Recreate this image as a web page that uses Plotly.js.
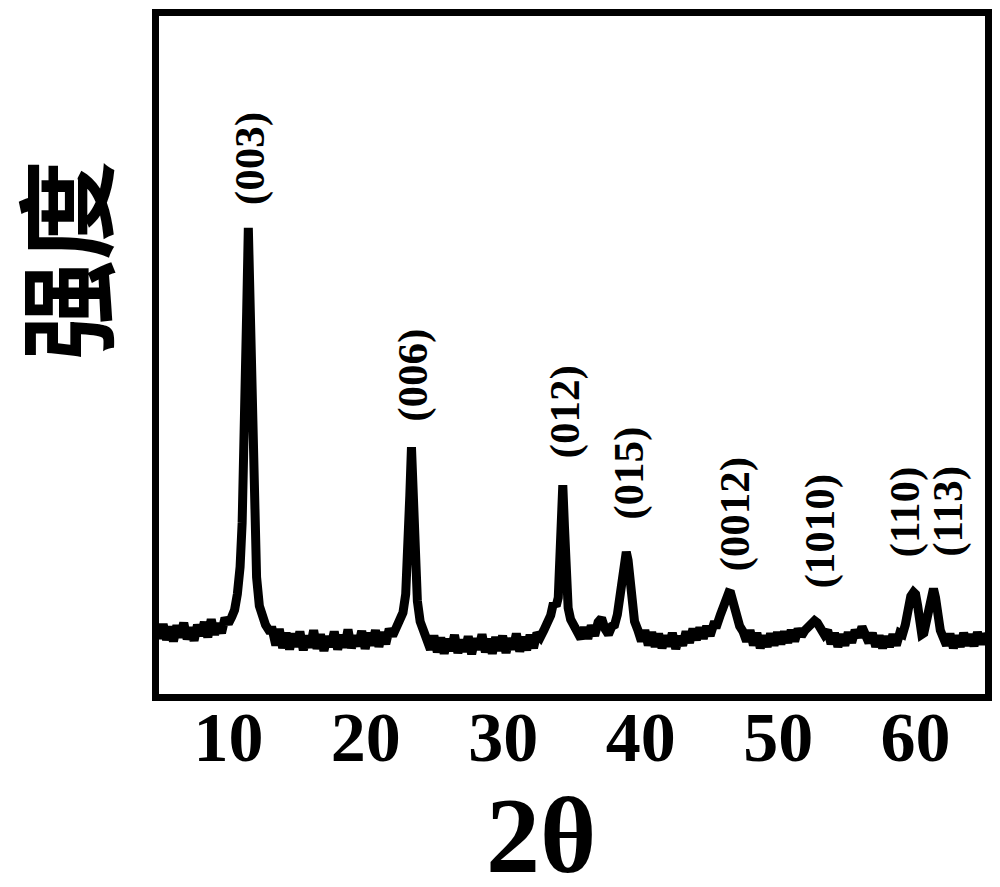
<!DOCTYPE html>
<html>
<head>
<meta charset="utf-8">
<script src="https://cdn.plot.ly/plotly-3.0.1.min.js"></script>
<style>html,body{margin:0;padding:0;background:#fff;}#chart{width:1000px;height:887px;}</style>
</head>
<body>
<div id="chart"></div>
<script>
const twoTheta = [
4.8,5.0,5.25,5.5,5.75,6.0,6.25,6.5,6.75,7.0,7.25,7.5,7.75,8.0,8.25,8.5,8.75,9.0,9.25,9.5,9.75,10.0,
10.25,10.45,10.65,10.85,11.0,11.2,11.33,11.45,11.57,11.7,11.85,12.05,12.25,12.45,12.7,12.95,
13.2,13.45,13.7,13.95,14.2,14.45,14.7,14.95,15.2,15.45,15.7,15.95,16.2,16.45,16.7,16.95,17.2,17.45,17.7,17.95,18.2,18.45,18.7,18.95,19.2,19.45,19.7,19.95,20.2,20.45,20.7,20.95,21.2,21.45,21.7,21.95,
22.2,22.45,22.7,22.9,23.05,23.2,23.32,23.45,23.6,23.75,23.95,24.2,24.45,
24.7,24.95,25.2,25.45,25.7,25.95,26.2,26.45,26.7,26.95,27.2,27.45,27.7,27.95,28.2,28.45,28.7,28.95,29.2,29.45,29.7,29.95,30.2,30.45,30.7,30.95,31.2,31.45,31.7,31.95,32.2,32.45,32.7,
32.95,33.2,33.45,33.65,33.85,34.0,34.12,34.22,34.33,34.45,34.57,34.72,34.9,35.15,35.4,35.65,
35.9,36.15,36.4,36.65,36.9,37.15,37.4,37.65,37.9,
38.1,38.3,38.5,38.7,38.85,38.95,39.08,39.2,39.35,39.55,39.8,
40.05,40.3,40.55,40.8,41.05,41.3,41.55,41.8,42.05,42.3,42.55,42.8,43.05,43.3,43.55,43.8,44.05,44.3,44.55,44.8,45.05,45.3,
45.55,45.8,46.0,46.2,46.4,46.55,46.75,46.95,47.2,47.45,
47.7,47.95,48.2,48.45,48.7,48.95,49.2,49.45,49.7,49.95,50.2,50.45,50.7,50.95,51.2,51.45,51.7,51.95,52.2,52.45,52.65,52.85,53.1,53.35,53.6,53.85,54.1,54.35,54.6,54.85,55.1,55.35,55.6,55.85,56.1,56.35,56.6,56.85,57.1,57.35,57.6,57.85,58.1,58.35,58.6,58.85,59.05,
59.25,59.45,59.65,59.85,60.0,60.15,60.3,60.45,60.6,
60.75,60.95,61.15,61.3,61.45,61.6,61.8,62.0,
62.25,62.5,62.75,63.0,63.25,63.5,63.75,64.0,64.25,64.5,64.75,65.0,65.2
];
const intensity = [
100,80,101,78,97,76,99,82,103,79,96,77,100,84,104,82,108,86,102,88,110,102,
112,122,145,185,250,380,560,683,560,380,240,170,128,112,100,92,
92,70,94,66,88,64,87,68,90,63,84,67,92,65,86,62,83,68,90,64,85,67,93,66,84,69,91,65,88,70,92,68,89,72,94,84,
95,102,118,145,200,290,361,285,190,135,105,88,80,
64,84,60,81,58,79,62,85,59,78,61,83,57,80,64,86,60,79,58,82,62,84,59,80,64,87,61,82,63,85,66,88,82,
92,100,114,132,128,140,190,260,305,245,165,125,108,96,86,80,
96,80,99,84,104,110,94,86,98,
100,115,140,175,200,207,195,165,128,105,92,
76,92,70,89,68,87,66,84,69,88,65,83,70,90,74,94,78,96,80,98,84,100,
100,115,128,140,147,146,130,112,98,90,
76,92,70,88,66,84,68,87,70,89,72,90,74,92,76,94,84,92,96,101,106,103,95,86,92,72,88,68,86,70,89,74,92,82,97,84,74,88,68,84,66,83,68,86,70,88,86,
100,125,142,148,145,128,108,86,88,
102,128,148,153,140,115,92,82,
70,87,66,84,68,88,70,86,69,89,72,86,80
];
const xTickVals = [10,20,30,40,50,60];
const xTickText = ["10","20","30","40","50","60"];
const peakLabels = ["(003)","(006)","(012)","(015)","(0012)","(1010)","(110)","(113)"];
const peakLabelX = [11.56,23.42,34.47,39.13,46.84,53.02,59.2,62.4];
const peakLabelY = [785,467,413,323,263,238,266,267];
const xTitle = "2θ";
const yTitle = "强度";

const serif = "Liberation Serif, Times New Roman, serif";
const annotations = peakLabels.map((t,i)=>({
  text: t, x: peakLabelX[i], y: peakLabelY[i], xref:'x', yref:'y',
  showarrow:false, textangle:-90, xanchor:'center', yanchor:'middle',
  font:{family:serif, size:43, color:'#000', weight:'bold'}
}));
annotations.push({
  text: xTitle, xref:'paper', yref:'paper', x:0.462, y:-0.208,
  showarrow:false, xanchor:'center', yanchor:'middle',
  font:{family:serif, size:108, color:'#000', weight:'bold'}
});
annotations.push({
  text: yTitle, xref:'paper', yref:'paper', x:-0.118, y:0.639,
  showarrow:false, textangle:-90, xanchor:'center', yanchor:'middle',
  font:{family:'Noto Sans CJK SC, sans-serif', size:100, color:'#000', weight:'bold'}
});

const trace = {
  x: twoTheta, y: intensity, type:'scatter', mode:'lines',
  line:{color:'#000', width:9}, hoverinfo:'skip'
};
const layout = {
  width:1000, height:887,
  margin:{l:159, r:14.5, t:16, b:193, pad:0},
  paper_bgcolor:'#fff', plot_bgcolor:'#fff',
  showlegend:false,
  xaxis:{range:[4.95,65.05], showgrid:false, zeroline:false,
    showline:true, linewidth:7, linecolor:'#000', mirror:true,
    ticks:'', tickvals:xTickVals, ticktext:xTickText, ticklabelstandoff:-24,
    tickfont:{family:serif, size:70, color:'#000', weight:'bold'}},
  yaxis:{range:[-1.5,994], showgrid:false, zeroline:false,
    showline:true, linewidth:7, linecolor:'#000', mirror:true,
    ticks:'', showticklabels:false},
  annotations: annotations
};
Plotly.newPlot('chart',[trace],layout,{displayModeBar:false,staticPlot:true});
</script>
</body>
</html>
